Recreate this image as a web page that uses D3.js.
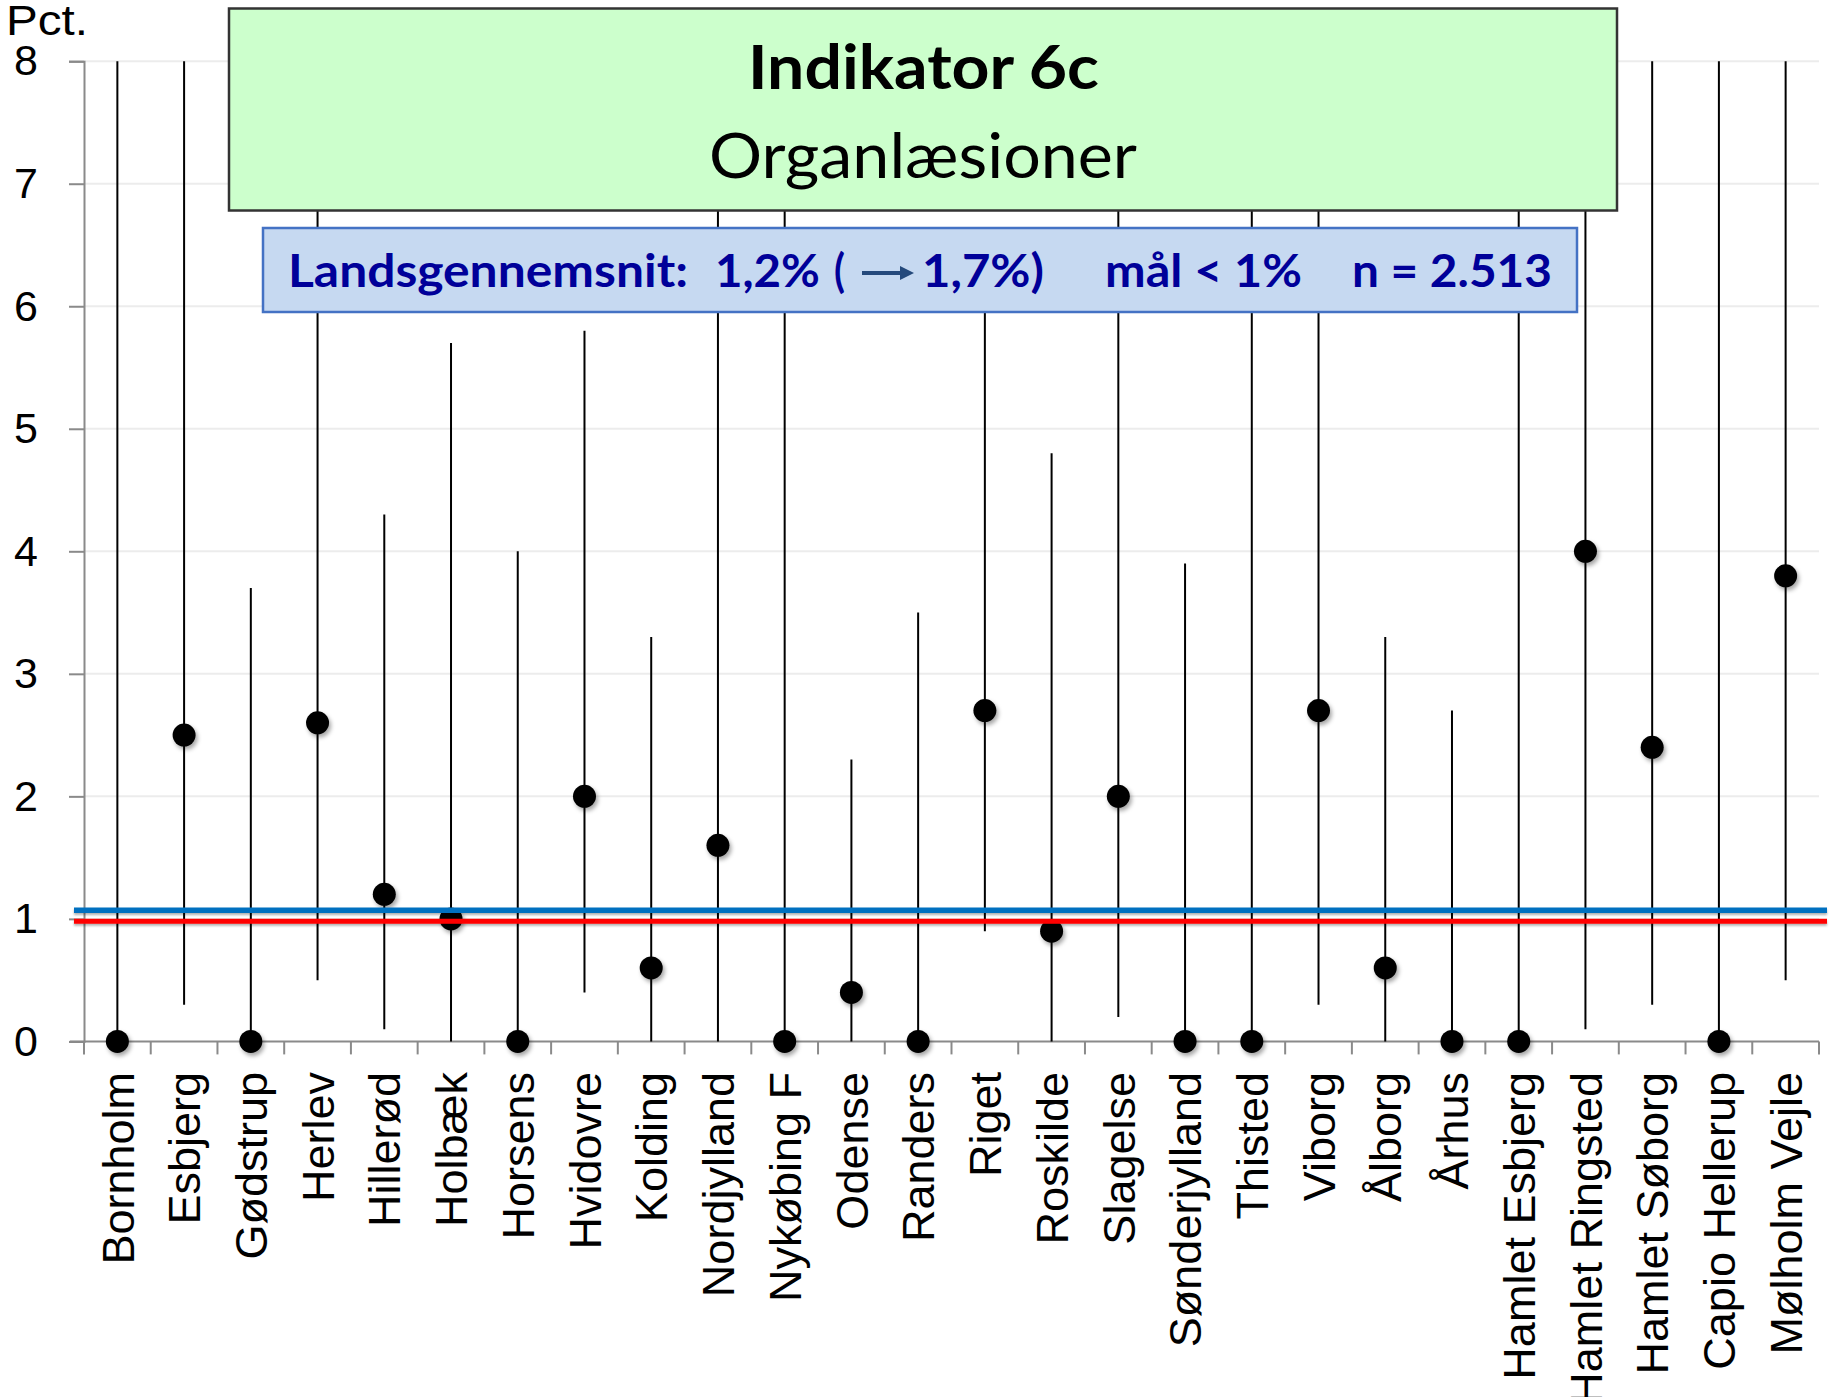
<!DOCTYPE html>
<html><head><meta charset="utf-8">
<script src="https://cdn.jsdelivr.net/npm/d3@7/dist/d3.min.js"></script>
<style>html,body{margin:0;padding:0;background:#fff;}svg{display:block;}</style>
</head><body>
<svg id="chart" width="1845" height="1397"></svg>
<script>
const categories = ["Bornholm","Esbjerg","Gødstrup","Herlev","Hillerød","Holbæk","Horsens","Hvidovre","Kolding","Nordjylland","Nykøbing F","Odense","Randers","Riget","Roskilde","Slagelse","Sønderjylland","Thisted","Viborg","Ålborg","Århus","Hamlet Esbjerg","Hamlet Ringsted","Hamlet Søborg","Capio Hellerup","Mølholm Vejle"];
const values = [0,2.5,0,2.6,1.2,1.0,0,2.0,0.6,1.6,0,0.4,0,2.7,0.9,2.0,0,0,2.7,0.6,0,0,4.0,2.4,0,3.8];
const lower  = [0,0.3,0,0.5,0.1,0,0,0.4,0,0,0,0,0,0.9,0,0.2,0,0,0.3,0,0,0,0.1,0.3,0,0.5];
// upper limits above 8 are clipped at the axis maximum
const upper  = [8,8,3.7,8,4.3,5.7,4.0,5.8,3.3,8,8,2.3,3.5,6.5,4.8,8,3.9,8,8,3.3,2.7,8,8,8,8,8];
const yTicks = [0,1,2,3,4,5,6,7,8];
const nationalAvg = 1.07;
const target = 0.98;
const titleLine1 = "Indikator 6c";
const titleLine2 = "Organlæsioner";
const yAxisTitle = "Pct.";

const svg = d3.select("#chart");
const x = d3.scaleBand().domain(categories).range([84, 1819]).padding(0);
const y = d3.scaleLinear().domain([0, 8]).range([1041.4, 61.2]);
const cx = d => x(d) + x.bandwidth() / 2;

const defs = svg.append("defs");
const f = defs.append("filter").attr("id","shadow").attr("filterUnits","userSpaceOnUse")
  .attr("x",0).attr("y",0).attr("width",1845).attr("height",1397);
f.append("feDropShadow").attr("dx",2).attr("dy",3).attr("stdDeviation",2).attr("flood-color","#000").attr("flood-opacity",0.35);
const f2 = defs.append("filter").attr("id","lshadow").attr("filterUnits","userSpaceOnUse")
  .attr("x",0).attr("y",0).attr("width",1845).attr("height",1397);
f2.append("feDropShadow").attr("dx",0).attr("dy",2).attr("stdDeviation",1.2).attr("flood-color","#000").attr("flood-opacity",0.3);

// gridlines
svg.append("g").selectAll("line").data(yTicks.filter(t => t > 0)).join("line")
  .attr("x1", 84).attr("x2", 1819).attr("y1", d => y(d)).attr("y2", d => y(d))
  .attr("stroke", "#ececec").attr("stroke-width", 2);

// y axis
const yAxis = svg.append("g").attr("transform","translate(84,0)")
  .call(d3.axisLeft(y).tickValues(yTicks).tickSize(15).tickPadding(31).tickFormat(d3.format("d")));
yAxis.select(".domain").attr("stroke","#8a8a8a").attr("stroke-width",2);
yAxis.selectAll(".tick line").attr("stroke","#8a8a8a").attr("stroke-width",2);
yAxis.selectAll(".tick text").attr("font-family","'Liberation Sans', Arial, sans-serif").attr("font-size",43).attr("fill","#000");

// x axis
const xAxisG = svg.append("g").attr("transform",`translate(0,${y(0)})`);
xAxisG.append("line").attr("x1",70).attr("x2",1819).attr("y1",0).attr("y2",0).attr("stroke","#8a8a8a").attr("stroke-width",2);
const bounds = categories.map(c => x(c)).concat([x.range()[1]]);
xAxisG.selectAll("line.tk").data(bounds).join("line").attr("class","tk")
  .attr("x1", d => d).attr("x2", d => d).attr("y1", 0).attr("y2", 13)
  .attr("stroke","#8a8a8a").attr("stroke-width",2);
svg.append("g").selectAll("text").data(categories).join("text")
  .attr("transform", d => `translate(${cx(d)},1072) rotate(-90)`)
  .attr("text-anchor","end").attr("dy","0.36em")
  .attr("font-family","'Liberation Sans', Arial, sans-serif").attr("font-size",45).attr("fill","#000")
  .text(d => d);

// y axis title
svg.append("text").attr("x",6).attr("y",35).attr("font-family","'Liberation Sans', Arial, sans-serif")
  .attr("font-size",43).attr("textLength",82).attr("lengthAdjust","spacingAndGlyphs").attr("fill","#000").text(yAxisTitle);

// error bars
svg.append("g").selectAll("line").data(categories).join("line")
  .attr("x1", d => cx(d)).attr("x2", d => cx(d))
  .attr("y1", (d,i) => y(lower[i])).attr("y2", (d,i) => y(Math.min(upper[i], 8)))
  .attr("stroke","#000").attr("stroke-width",2);

// points
svg.append("g").attr("filter","url(#shadow)").selectAll("circle").data(categories).join("circle")
  .attr("cx", d => cx(d)).attr("cy", (d,i) => y(values[i])).attr("r", 11.5).attr("fill","#000");

// reference lines
const refG = svg.append("g").attr("filter","url(#lshadow)");
refG.append("line").attr("x1",74).attr("x2",1827).attr("y1",y(nationalAvg)).attr("y2",y(nationalAvg))
  .attr("stroke","#0070c0").attr("stroke-width",5.5);
refG.append("line").attr("x1",74).attr("x2",1827).attr("y1",y(target)).attr("y2",y(target))
  .attr("stroke","#ff0000").attr("stroke-width",5);

// title box
svg.append("rect").attr("x",229).attr("y",8.5).attr("width",1388).attr("height",202)
  .attr("fill","#ccffcc").attr("stroke","#333").attr("stroke-width",2.5);
const tf = "Lato, 'Open Sans', sans-serif";
svg.append("text").attr("x",748).attr("y",89).attr("font-family",tf).attr("font-weight","bold").attr("font-size",62)
  .attr("textLength",351).attr("lengthAdjust","spacingAndGlyphs").attr("fill","#000").text(titleLine1);
svg.append("text").attr("x",709).attr("y",178).attr("font-family",tf).attr("font-size",62)
  .attr("textLength",428).attr("lengthAdjust","spacingAndGlyphs").attr("fill","#000").text(titleLine2);

// legend box
svg.append("rect").attr("x",263).attr("y",228).attr("width",1314).attr("height",84)
  .attr("fill","#c6d9f1").attr("stroke","#4472c4").attr("stroke-width",2.5);
const legCol = "#000099";
const segs = [
  {t:"Landsgennemsnit:", x:288, w:400},
  {t:"1,2%", x:715, w:105},
  {t:"(", x:834, w:11},
  {t:"1,7%)", x:922, w:122},
  {t:"mål < 1%", x:1105, w:197},
  {t:"n = 2.513", x:1352, w:200}
];
svg.append("g").selectAll("text").data(segs).join("text")
  .attr("x", d => d.x).attr("y", 287).attr("font-family",tf).attr("font-weight","bold").attr("font-size",45)
  .attr("textLength", d => d.w).attr("lengthAdjust","spacingAndGlyphs").attr("fill",legCol).text(d => d.t);
// arrow
svg.append("line").attr("x1",862).attr("x2",902).attr("y1",273).attr("y2",273).attr("stroke","#254a7c").attr("stroke-width",4);
svg.append("path").attr("d","M900,266 L914,273 L900,280 Z").attr("fill","#254a7c");
</script>
</body></html>
